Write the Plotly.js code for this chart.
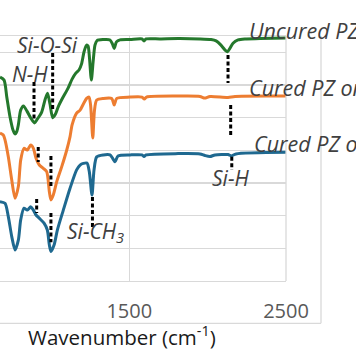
<!DOCTYPE html>
<html><head><meta charset="utf-8">
<script src="https://cdn.plot.ly/plotly-3.0.1.min.js"></script>
<style>html,body{margin:0;padding:0;background:#fff}#chart{width:356px;height:364px}</style>
</head><body><div id="chart"></div>
<script>
// Wavenumber (cm-1) and offset absorbance
const uncuredWn = [675,701,718,739,758,771,783,792,807,825,847,871,895,914,941,962,978,994,1011,1029,1047,1071,1111,1135,1160,1179,1195,1211,1227,1237,1246,1258,1269,1281,1294,1332,1377,1393,1404,1418,1441,1505,1581,1594,1607,1696,1811,1951,2022,2054,2085,2111,2127,2143,2162,2194,2239,2334,2500];
const uncuredAbs = [6.24,6.15,5.64,5.02,4.62,4.50,4.59,4.78,5.23,5.36,5.20,4.99,4.84,4.96,5.17,5.54,5.75,5.42,5.00,5.11,5.34,5.57,5.92,6.18,6.37,6.46,6.64,7.01,7.22,7.19,6.83,6.15,6.70,7.22,7.36,7.39,7.38,7.25,7.12,7.32,7.38,7.39,7.41,7.35,7.41,7.41,7.42,7.41,7.39,7.35,7.22,7.07,7.02,7.13,7.28,7.38,7.41,7.42,7.44];

const cured1Wn = [675,696,707,728,750,771,792,807,828,849,871,888,905,926,951,973,990,1000,1015,1037,1069,1101,1122,1135,1164,1186,1207,1228,1243,1253,1267,1278,1292,1334,1388,1404,1420,1505,1581,1596,1610,1811,1951,1981,2015,2130,2175,2500];
const cured1Abs = [4.53,4.47,4.32,3.80,3.09,2.53,2.89,3.70,4.06,4.01,4.16,4.06,3.76,3.55,3.45,3.35,2.73,2.48,2.63,3.04,3.50,4.01,4.42,4.78,5.14,5.23,5.42,5.59,5.63,5.39,4.38,5.23,5.54,5.59,5.59,5.39,5.59,5.63,5.63,5.57,5.63,5.66,5.65,5.60,5.65,5.62,5.65,5.66];

const cured2Wn = [675,707,728,750,771,792,807,828,849,871,888,905,926,956,977,990,1000,1020,1041,1079,1122,1164,1186,1207,1230,1245,1262,1275,1292,1334,1377,1393,1409,1428,1505,1581,1594,1607,1811,1951,1983,2015,2047,2130,2152,2181,2500];
const cured2Abs = [2.43,2.38,1.97,1.36,0.95,1.25,1.87,2.23,2.17,2.27,2.17,2.02,1.92,1.77,1.56,1.10,0.90,1.10,1.56,2.17,2.84,3.40,3.55,3.60,3.61,3.34,2.63,3.40,3.80,3.86,3.86,3.76,3.65,3.83,3.86,3.86,3.81,3.86,3.90,3.89,3.84,3.81,3.86,3.87,3.83,3.89,3.94];

const seriesNames = ["Uncured PZ", "Cured PZ on", "Cured PZ on"];
const seriesColors = ["#24782c", "#ed7d31", "#1f6990"];

// Peak marker dashes: wavenumber, top, bottom
const markWn  = [892, 1011, 2130, 919, 1000, 2147, 909, 1000, 1265, 2154];
const markTop = [6.09, 6.98, 6.92, 4.10, 3.83, 5.39, 2.51, 2.08, 2.57, 3.80];
const markBot = [4.93, 5.23, 6.06, 3.64, 2.88, 4.47, 2.08, 1.19, 1.65, 3.40];

// Peak labels
const peakLabels = ["Si-O-Si", "N-H", "Si-H", "Si-CH<sub>3</sub>"];
const peakLabelWn = [975, 866, 2143, 1092];
const peakLabelAbs = [7.22, 6.33, 3.15, 1.50];

// Series label positions (left edge wavenumber, level)
const seriesLabelWn = [2251, 2251, 2283];
const seriesLabelAbs = [7.68, 5.93, 4.22];

const xTicks = [1500, 2500];
const yMax = 7.5;

const traces = [
  {x: uncuredWn, y: uncuredAbs},
  {x: cured1Wn, y: cured1Abs},
  {x: cured2Wn, y: cured2Abs}
].map((d, i) => ({
  x: d.x, y: d.y, type: 'scatter', mode: 'lines', name: seriesNames[i],
  line: {color: seriesColors[i], width: 3, shape: 'spline', smoothing: 0.7},
  hoverinfo: 'skip'
}));

const mx = [], my = [];
markWn.forEach((w, i) => { mx.push(w, w, null); my.push(markTop[i], markBot[i], null); });
traces.push({x: mx, y: my, type: 'scatter', mode: 'lines',
  line: {color: '#000000', width: 3, dash: '4px,2.5px'}, hoverinfo: 'skip'});

const annFont = {family: 'Open Sans, sans-serif', size: 21, color: '#404040', style: 'italic'};
const annotations = [];
peakLabels.forEach((t, i) => annotations.push({
  x: peakLabelWn[i], y: peakLabelAbs[i], xref: 'x', yref: 'y', text: t, showarrow: false,
  xanchor: i === 3 ? 'left' : 'center', yanchor: 'middle', font: annFont
}));
seriesNames.forEach((t, i) => annotations.push({
  x: seriesLabelWn[i], y: seriesLabelAbs[i] / yMax, xref: 'x', yref: 'paper', text: t, showarrow: false,
  xanchor: 'left', yanchor: 'middle', font: Object.assign({}, annFont, {size: 21.5})
}));
// axis title (centred on the outer frame, as in the reference)
annotations.push({
  x: 0.425, y: -0.226, xref: 'paper', yref: 'paper', showarrow: false,
  text: 'Wavenumber (cm<sup>-1</sup>)', xanchor: 'center', yanchor: 'middle',
  font: {family: 'Open Sans, sans-serif', size: 20.5, color: '#1a1a1a'}
});

const frame = '#d9d9d9';
const shapes = [
  {type: 'line', xref: 'paper', yref: 'paper', x0: 1, x1: 1, y0: 0, y1: 1, line: {color: frame, width: 1.3}},
  {type: 'line', xref: 'paper', yref: 'paper', x0: 1.1224, x1: 1.1224, y0: -0.1727, y1: 1, line: {color: frame, width: 1.3}},
  {type: 'line', xref: 'paper', yref: 'paper', x0: -0.01, x1: 1.1224, y0: -0.1727, y1: -0.1727, line: {color: frame, width: 1.3}}
];

const layout = {
  width: 356, height: 364,
  margin: {l: 0, r: 70, t: 36, b: 83, pad: 0},
  paper_bgcolor: '#ffffff', plot_bgcolor: '#ffffff',
  showlegend: false,
  xaxis: {
    range: [675, 2500], tickvals: xTicks, ticktext: xTicks.map(String),
    showgrid: true, gridcolor: frame, gridwidth: 1.3, zeroline: false,
    showline: true, mirror: true, linecolor: frame, linewidth: 1.3,
    ticks: '', ticklabelstandoff: 12,
    tickfont: {family: 'Open Sans, sans-serif', size: 20, color: '#595959'},
    automargin: false
  },
  yaxis: {
    range: [0, yMax], dtick: 1, showticklabels: false, ticks: '',
    showgrid: true, gridcolor: frame, gridwidth: 1.3, zeroline: false, showline: false,
    automargin: false
  },
  annotations: annotations,
  shapes: shapes
};

Plotly.newPlot('chart', traces, layout, {displayModeBar: false, staticPlot: true});
</script>
</body></html>
